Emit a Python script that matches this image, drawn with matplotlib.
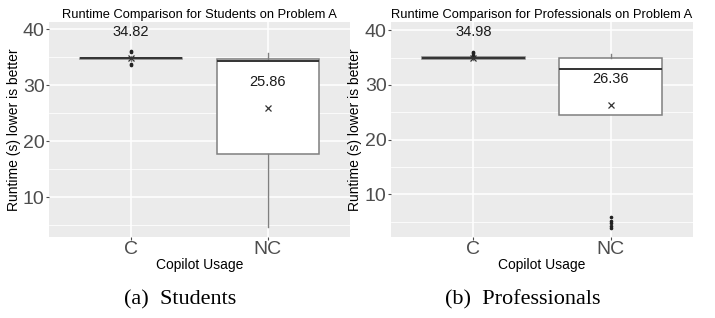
import matplotlib
matplotlib.use("Agg")
import matplotlib.pyplot as plt
from matplotlib.ticker import MultipleLocator

plt.rcParams['font.family'] = ['Liberation Sans', 'DejaVu Sans']

categories = ["C", "NC"]
titles = ["Runtime Comparison for Students on Problem A",
          "Runtime Comparison for Professionals on Problem A"]
captions = ["(a)  Students", "(b)  Professionals"]

# five-number summaries per panel: [C, NC]
stu_q1 = [34.65, 17.76]
stu_med = [34.78, 34.32]
stu_q3 = [34.92, 34.74]
stu_whislo = [34.4, 4.6]
stu_whishi = [35.2, 35.8]
stu_fliers = [[33.6, 33.8, 35.9, 36.2], []]
stu_mean = [34.82, 25.86]

pro_q1 = [34.75, 24.48]
pro_med = [34.95, 32.82]
pro_q3 = [35.15, 34.83]
pro_whislo = [34.6, 24.48]
pro_whishi = [35.3, 35.56]
pro_fliers = [[35.5, 35.8, 36.1], [3.9, 4.3, 4.7, 5.2, 5.9]]
pro_mean = [34.98, 26.36]

panels = [
    (stu_q1, stu_med, stu_q3, stu_whislo, stu_whishi, stu_fliers, stu_mean),
    (pro_q1, pro_med, pro_q3, pro_whislo, pro_whishi, pro_fliers, pro_mean),
]

W, H = 715, 318
fig = plt.figure(figsize=(W / 100, H / 100), dpi=100)
boxes_px = [(49, 22, 350, 237), (391, 22, 693, 237)]
ylims = [(2.85, 41.3), (2.2, 41.5)]
ylabel_x = [21, 362]
label_offset = 4.75

for i, (q1, med, q3, wlo, whi, fl, mean) in enumerate(panels):
    x0, y0, x1, y1 = boxes_px[i]
    ax = fig.add_axes([x0 / W, (H - y1) / H, (x1 - x0) / W, (y1 - y0) / H])
    ax.set_facecolor("#EBEBEB")
    for s in ax.spines.values():
        s.set_visible(False)
    ax.yaxis.set_major_locator(MultipleLocator(10))
    ax.yaxis.set_minor_locator(MultipleLocator(5))
    ax.grid(which="major", color="white", lw=1.1)
    ax.grid(which="minor", axis="y", color="white", lw=0.55)
    ax.set_axisbelow(True)

    stats = []
    for k in range(len(categories)):
        stats.append(dict(med=med[k], q1=q1[k], q3=q3[k], whislo=wlo[k],
                          whishi=whi[k], fliers=fl[k], mean=mean[k]))
    pos = list(range(1, len(categories) + 1))
    ax.bxp(stats, positions=pos, widths=0.75, patch_artist=True,
           showmeans=True, showcaps=False,
           boxprops=dict(facecolor="white", edgecolor="#7F7F7F", lw=1.1),
           medianprops=dict(color="#333333", lw=1.4),
           whiskerprops=dict(color="#7F7F7F", lw=1.0),
           flierprops=dict(marker="o", markersize=1.6, markerfacecolor="#222222",
                           markeredgecolor="#222222"),
           meanprops=dict(marker="x", markersize=5, markeredgecolor="#333333",
                          markeredgewidth=0.9), zorder=3)
    for k, m in enumerate(mean):
        ax.text(pos[k], m + label_offset, f"{m:.2f}", ha="center", va="center",
                fontsize=10.5, color="#1A1A1A", zorder=5)

    ax.set_xlim(0.4, 2.6)
    ax.set_ylim(*ylims[i])
    ax.set_xticks(pos)
    ax.set_xticklabels(categories)
    ax.tick_params(axis="both", which="major", labelsize=14, colors="#4D4D4D",
                   length=2.5, width=0.8, pad=0.6)
    ax.tick_params(axis="y", which="minor", length=0)
    ax.set_title(titles[i], fontsize=9.3, pad=3)
    ax.set_xlabel("Copilot Usage", fontsize=10, labelpad=0)
    ax.set_ylabel("Runtime (s) lower is better", fontsize=10, labelpad=1)
    ax.yaxis.set_label_coords((ylabel_x[i] - x0) / (x1 - x0), 0.5)

fig.text(180 / W, 1 - 300 / H, captions[0], ha="center", va="center",
         fontsize=16, family="Liberation Serif")
fig.text(523 / W, 1 - 300 / H, captions[1], ha="center", va="center",
         fontsize=16, family="Liberation Serif")

fig.savefig("out.png", dpi=100)
